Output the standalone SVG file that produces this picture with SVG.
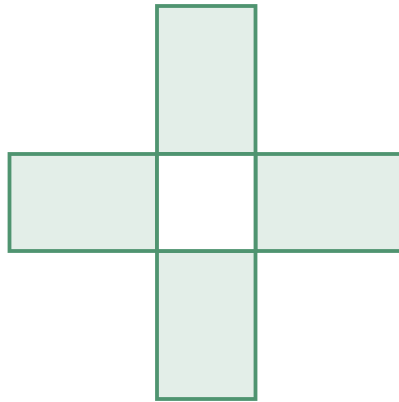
<svg xmlns="http://www.w3.org/2000/svg" width="399" height="402" viewBox="0 0 399 402">
<style>
.arm{fill:#e3eee8;stroke:#4f9470;stroke-width:3.8}
.ctr{fill:#ffffff;stroke:#4f9470;stroke-width:3.8}
</style>
<rect width="399" height="402" fill="#ffffff"/>
<g id="top"><rect class="arm" x="157" y="6" width="98.5" height="148"/></g>
<g id="left"><rect class="arm" x="9.5" y="154" width="147.5" height="97"/></g>
<g id="right"><rect class="arm" x="255.5" y="154" width="147.5" height="97"/></g>
<g id="bottom"><rect class="arm" x="157" y="251" width="98.5" height="148"/></g>
<g id="center"><rect class="ctr" x="157" y="154" width="98.5" height="97"/></g>
<g id="connectors"></g>
</svg>
